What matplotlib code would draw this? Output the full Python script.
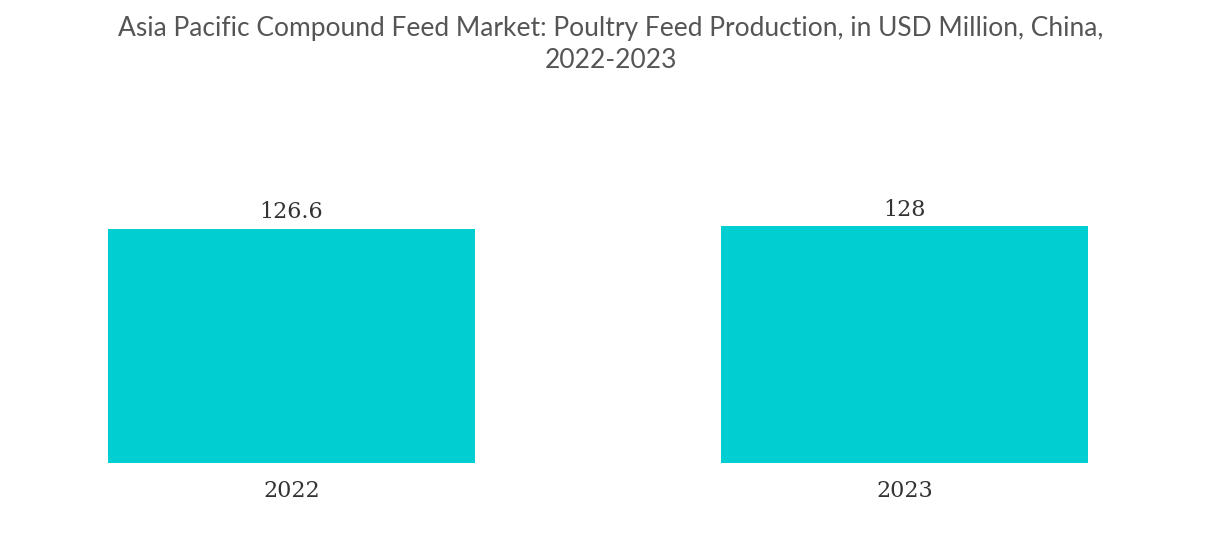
import matplotlib

matplotlib.use("Agg")

import matplotlib.pyplot as plt

# Values
years = ["2022", "2023"]
values = [126.6, 128]

BAR_COLOR = "#00CED1"
TEXT_COLOR = "#555555"

fig = plt.figure(figsize=(12.21, 5.38), dpi=100)
ax = fig.add_axes([0.0128, 0.1394, 0.954, 0.55])

x = range(len(years))
bars = ax.bar(x, values, width=0.599, color=BAR_COLOR)
ax.set_xlim(-0.45, 1.45)
ax.set_ylim(0, 160)

for bar, v in zip(bars, values):
    ax.text(bar.get_x() + bar.get_width() / 2, v + 3, f"{v:g}",
            ha="center", va="bottom", fontsize=16, color="#333333",
            family="DejaVu Serif")

ax.set_xticks(list(x))
ax.set_xticklabels(years, fontsize=16, color="#333333", family="DejaVu Serif")
ax.tick_params(axis="x", length=0, pad=12)
ax.set_yticks([])
for s in ax.spines.values():
    s.set_visible(False)

fig.text(0.5, 0.97, "Asia Pacific Compound Feed Market: Poultry Feed Production, in USD Million, China,\n2022-2023",
         ha="center", va="top", fontsize=19, color=TEXT_COLOR, family="Lato",
         linespacing=1.35)

fig.savefig("out.png", dpi=100)
plt.close(fig)
